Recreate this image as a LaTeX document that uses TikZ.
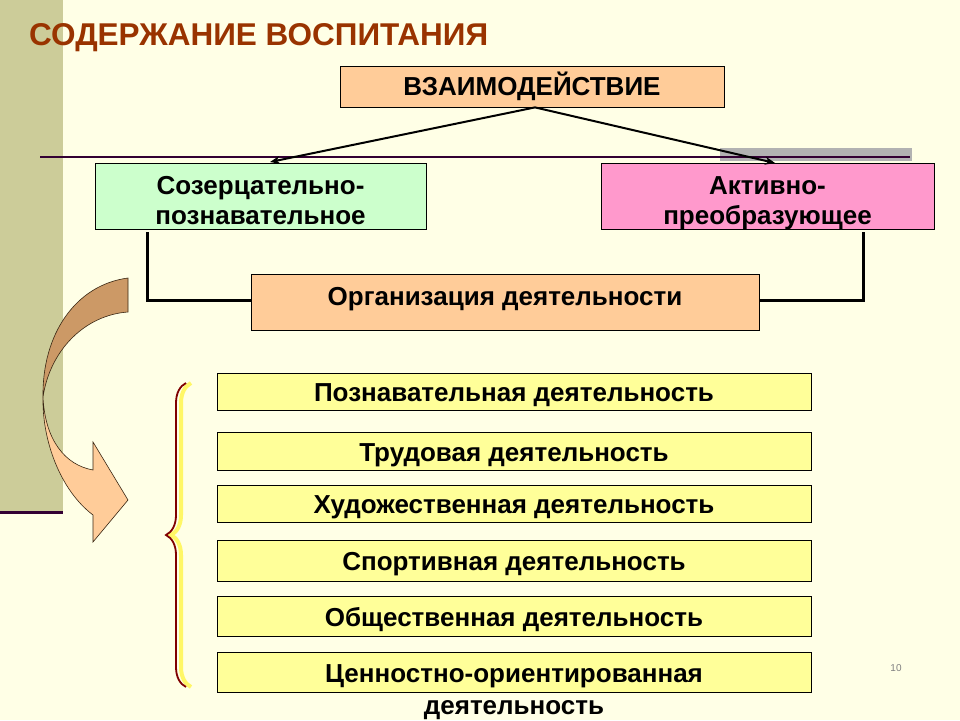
\documentclass[tikz,border=0pt]{standalone}
\usepackage{fontspec}
\setmainfont{Liberation Sans}
\usetikzlibrary{arrows.meta,decorations.pathreplacing}
\begin{document}
\begin{tikzpicture}[x=1pt,y=-1pt,
  bx/.style={draw=black,line width=0.8pt,font=\bfseries\fontsize{26}{31}\selectfont,align=center,inner sep=0pt},
  tx/.style={font=\bfseries\fontsize{26}{30}\selectfont,align=center,inner sep=0pt},
  conn/.style={line width=3pt,line cap=rect}]
\definecolor{bg}{HTML}{FFFFE6}
\fill[bg] (0,0) rectangle (960,720);
\useasboundingbox (0,0) rectangle (960,720);
\fill[fill={rgb,255:red,204;green,204;blue,153}] (0,0) rectangle (63,512);
\draw[line width=3pt,color={rgb,255:red,51;green,0;blue,51}] (0,512) -- (63,512);
\node[anchor=west,font=\bfseries\fontsize{31.5}{36}\selectfont,text={rgb,255:red,153;green,51;blue,0},inner sep=0] (title) at (29,38) {СОДЕРЖАНИЕ ВОСПИТАНИЯ};
\fill[gray!60] (720,148) rectangle (912,161);
\draw[line width=1.5pt,color={rgb,255:red,51;green,0;blue,51}] (40,157) coordinate (l1) -- (910,157) coordinate (l2);
\node[bx,fill={rgb,255:red,255;green,204;blue,153},minimum width=384pt,minimum height=41pt] (vz) at (532,86.5) {};
\node[tx] at (532,86) {ВЗАИМОДЕЙСТВИЕ};
\node[bx,fill={rgb,255:red,204;green,255;blue,204},minimum width=331pt,minimum height=66pt] (soz) at (260.5,196) {};
\node[tx,anchor=base] at (260.5,194) {Созерцательно-};
\node[tx,anchor=base] at (260.5,224) {познавательное};
\node[bx,fill={rgb,255:red,255;green,153;blue,204},minimum width=333pt,minimum height=66pt] (akt) at (767.5,196) {};
\node[tx,anchor=base] at (767.5,194) {Активно-};
\node[tx,anchor=base] at (767.5,224) {преобразующее};
\draw[line width=2pt,-{Stealth[length=10pt,width=8pt]}] (vz.south) ++(3,0) -- (270,162);
\draw[line width=2pt,-{Stealth[length=10pt,width=8pt]}] (vz.south) ++(3,0) -- (775,163);
\draw[conn] (147,233) -- (147,300) -- (251,300);
\draw[conn] (863,233) -- (863,300) -- (759,300);
\node[bx,fill={rgb,255:red,255;green,204;blue,153},minimum width=508pt,minimum height=56pt] (org) at (505,302) {};
\node[tx,anchor=base] at (505,305) {Организация деятельности};
\foreach \n/\y/\h/\t in {p1/391.5/37/Познавательная деятельность,p2/451/38/Трудовая деятельность,p3/503.5/37/Художественная деятельность,p4/560.5/41/Спортивная деятельность,p5/616/40/Общественная деятельность}{
  \node[bx,fill={rgb,255:red,255;green,255;blue,153},minimum width=594pt,minimum height=\h pt] (\n) at (514,\y) {};
  \node[tx,anchor=base] at (514,\y+10) {\t};}
\node[bx,fill={rgb,255:red,255;green,255;blue,153},minimum width=594pt,minimum height=40pt] (p6) at (514,672) {};
\node[tx,anchor=base] at (514,682) {Ценностно-ориентированная};
\node[tx,anchor=base] at (514,714) {деятельность};
% brace
\draw[line width=4pt,yellow!60,decorate,decoration={brace,amplitude=20pt}] (191,687) -- (191,383);
\draw[line width=1.8pt,color={rgb,255:red,128;green,0;blue,0},decorate,decoration={brace,amplitude=20pt}] (186,687) -- (186,383);
% curved arrow
\fill[fill={rgb,255:red,255;green,204;blue,153},draw=black!70!brown,line width=0.6pt]
 (43,397) .. controls (45,440) and (65,465) .. (93,470) -- (93,442) -- (128,500) -- (93,542) -- (93,515)
 .. controls (60,490) and (42,440) .. (43,397) -- cycle;
\fill[fill={rgb,255:red,204;green,153;blue,102},draw=black!70!brown,line width=0.6pt]
 (128,278) .. controls (75,285) and (42,335) .. (43,397) .. controls (50,350) and (85,315) .. (128,312) -- cycle;
\node[font=\fontsize{10}{11}\selectfont,text=gray] (pg) at (896,668) {10};
\end{tikzpicture}
\end{document}
